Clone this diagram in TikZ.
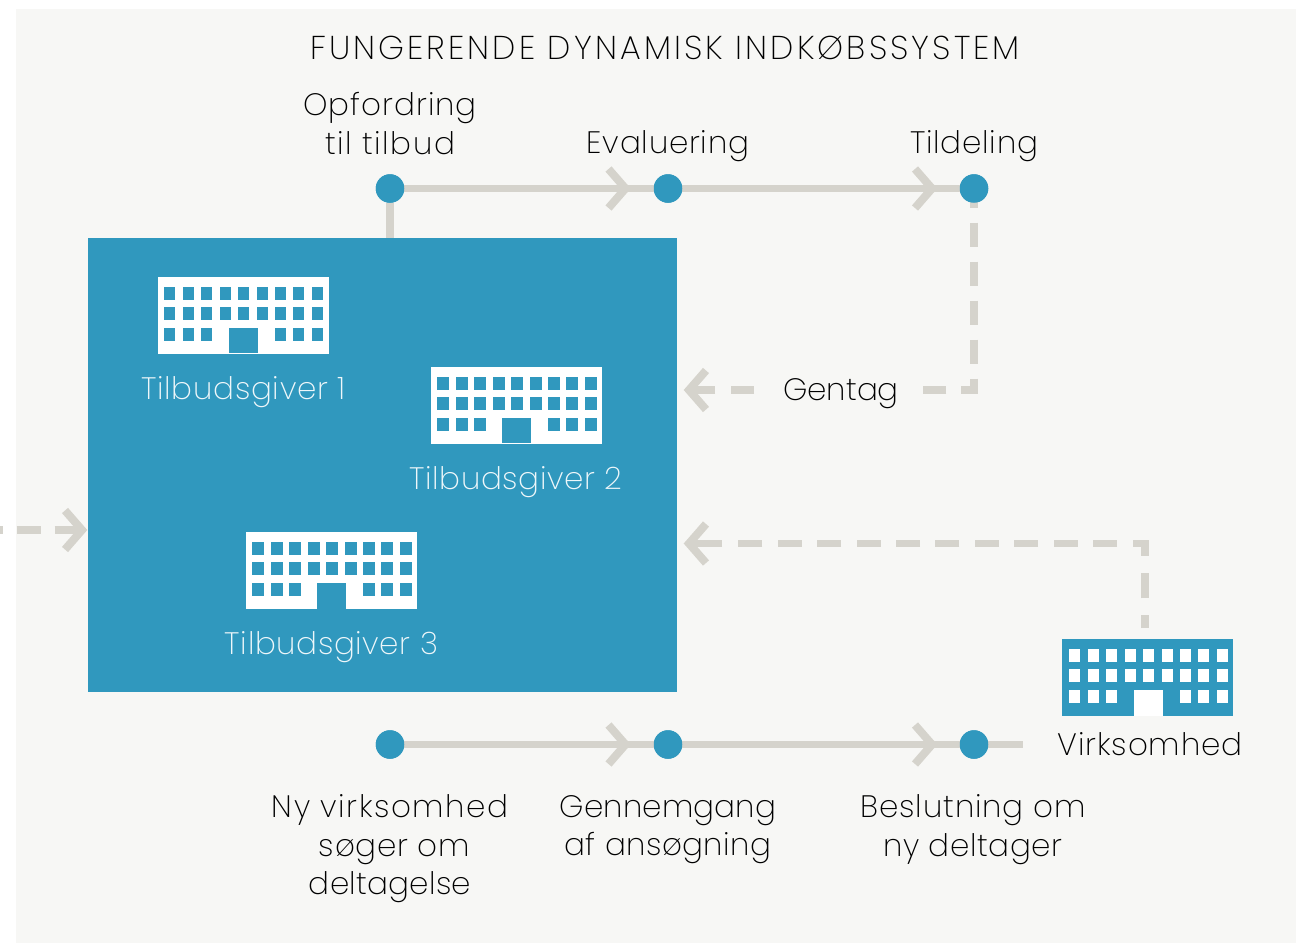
\documentclass[tikz,border=0pt]{standalone}
\usepackage{fontspec}
\setmainfont{Poppins}[UprightFont=* ExtraLight,LetterSpace=2.5]
\usetikzlibrary{calc}
\definecolor{bluec}{HTML}{3098BE}
\definecolor{linec}{HTML}{D5D3CC}
\definecolor{bgc}{HTML}{F7F7F5}
\newcommand{\lsp}[1]{\addfontfeature{LetterSpace=#1}}
\tikzset{
  x=1pt,y=-1pt,
  dot/.style={circle,fill=bluec,draw=none,minimum size=28.5pt,inner sep=0pt},
  lin/.style={draw=linec,line width=7.5pt},
  dsh/.style={lin,dash pattern=on 24pt off 15.4pt},
  lab/.style={font=\fontsize{31}{38.5}\selectfont,text=black,align=center,inner sep=0pt},
  wlab/.style={lab,text=white!92!bluec},
  pics/chv/.style={code={
    \draw[draw=linec,line width=8pt,miter limit=4] (-17,-19.5) -- (0,0) -- (-17,19.5);
  }},
  pics/bld/.style n args={4}{code={
    \fill[#1] (0,0) rectangle (171,77);
    \begin{scope}[xshift=#4]
    \foreach \y in {9.5,30,50.5} \foreach \x in {6,25,43,62,80,99,117,135,154}{
      \pgfmathparse{(\y==50.5 && (\x==62 || \x==80 || \x==99)) ? 0 : 1}
      \ifnum\pgfmathresult>0 \fill[#2] (\x,\y) rectangle +(11.5,13); \fi
    }
    \fill[#2] (71,50.5) rectangle (100,#3);
    \end{scope}
  }}
}
\begin{document}
\begin{tikzpicture}
\useasboundingbox (0,0) rectangle (1296,943);
\fill[white] (0,0) rectangle (1296,943);
\fill[bgc] (16,9) rectangle (1296,943);
\node[dot] (a) at (390,188.5) {};
\node[dot] (b) at (668,188.5) {};
\node[dot] (c) at (974,188.5) {};
\node[dot] (d) at (390,744.5) {};
\node[dot] (e) at (668,744.5) {};
\node[dot] (f) at (974,744.5) {};
\coordinate (boxtop) at (390,238);
\coordinate (fend) at (1023,744.5);
\coordinate (gc) at (974,390);
\coordinate (ge) at (922.5,390);
\coordinate (gs) at (754,390);
\coordinate (gm) at (730.5,390);
\coordinate (gh) at (715,390);
\coordinate (gt) at (689,390);
\coordinate (vs) at (1145,628);
\coordinate (vc) at (1145,543.5);
\coordinate (vm) at (1133,543.5);
\coordinate (vh) at (1117,543.5);
\coordinate (vl) at (738,543.5);
\coordinate (vj) at (722,543.5);
\coordinate (vt) at (689,543.5);
\coordinate (ls) at (0,530);
\coordinate (lm) at (2.5,530);
\coordinate (ln) at (16.5,530);
\coordinate (lo) at (40.5,530);
\coordinate (lp) at (54.5,530);
\coordinate (lt) at (82,530);
\draw[lin] (a) -- (boxtop);
\draw[lin] (a) -- (b);
\draw[lin] (b) -- (c);
\draw[lin] (d) -- (e);
\draw[lin] (e) -- (f);
\draw[lin] (f) -- (fend);
\pic at (625.5,188.5) {chv};
\pic at (932,188.5) {chv};
\pic at (625.5,744.5) {chv};
\pic at (932,744.5) {chv};
\draw[lin,dash pattern=on 24pt off 15pt,dash phase=4.8pt] (c.center) -- (gc) -- (ge);
\draw[lin] (gs) -- (gm);
\draw[lin] (gh) -- (gt);
\pic[rotate=180] at (gt) {chv};
\draw[lin,dash pattern=on 12.7pt off 17pt on 25.6pt off 17pt on 60pt] (vs) -- (vc) -- (vm);
\draw[dsh] (vh) -- (vl);
\draw[lin] (vj) -- (vt);
\pic[rotate=180] at (vt) {chv};
\draw[lin] (ls) -- (lm);
\draw[lin] (ln) -- (lo);
\draw[lin] (lp) -- (lt);
\pic at (lt) {chv};
\node[dot] at (a) {};\node[dot] at (b) {};\node[dot] at (c) {};
\node[dot] at (d) {};\node[dot] at (e) {};\node[dot] at (f) {};
\fill[bluec] (87.5,238) rectangle (676.7,692);
\pic at (157.5,277) {bld={white}{bluec}{76}{0}};
\pic at (431,367) {bld={white}{bluec}{76}{0}};
\pic at (246,532) {bld={white}{bluec}{77}{0}};
\pic at (1062,639) {bld={bluec}{white}{77}{0.8}};
\node[lab,font=\fontsize{33}{38.5}\selectfont] at (665,48) {\lsp{9.4}FUNGERENDE DYNAMISK INDKØBSSYSTEM};
\node[lab] at (390,123.5) {{\lsp{3.2}Opfordring}\\{\lsp{5}til tilbud}};
\node[lab] at (668,146.5) {Evaluering};
\node[lab] at (974,146.5) {Tildeling};
\node[lab] at (841,394) {\lsp{0}Gentag};
\node[wlab] at (243.5,392) {Tilbudsgiver 1};
\node[wlab] at (516,482) {\lsp{2}Tilbudsgiver 2};
\node[wlab] at (331.5,647) {\lsp{2}Tilbudsgiver 3};
\node[lab] at (1150,744) {\lsp{3}Virksomhed};
\node[lab] at (390,849) {{\lsp{5}Ny virksomhed}\\\hspace*{9pt}{\lsp{2.5}søger om}\\{\lsp{0.8}deltagelse}};
\node[lab] at (668,829.5) {{\lsp{0.5}Gennemgang}\\{\lsp{1.5}af ansøgning}};
\node[lab] at (973,829.5) {{\lsp{3}Beslutning om}\\{\lsp{2}ny deltager}};
\end{tikzpicture}
\end{document}
